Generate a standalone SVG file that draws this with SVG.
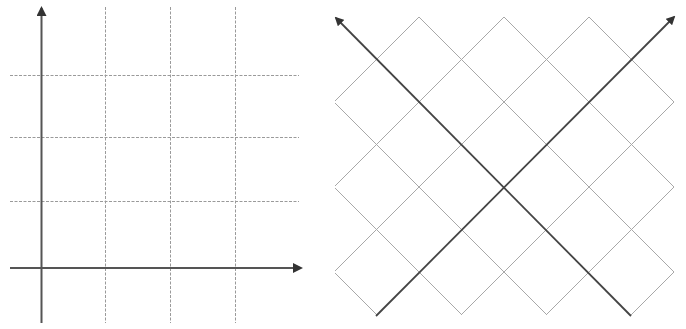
<svg xmlns="http://www.w3.org/2000/svg" width="686" height="329" viewBox="0 0 686 329">
<style>
.grid{stroke:#9a9a9a;stroke-width:1;stroke-dasharray:3 1.5;fill:none}
.rgrid{stroke:#a8a8a8;stroke-width:1;fill:none}
.axis{stroke:#555;stroke-width:2;fill:none}
.raxis{stroke:#444;stroke-width:1.8;fill:none}
</style>
<defs>
<marker id="arr" viewBox="0 0 10 10" refX="8" refY="5" markerWidth="5" markerHeight="5" orient="auto" markerUnits="strokeWidth">
<path d="M0,0 L10,5 L0,10 z" fill="#333"/>
</marker>
</defs>
<rect width="686" height="329" fill="#fff"/>
<g id="left-grid">
<line class="grid" x1="105.5" y1="7" x2="105.5" y2="323"/>
<line class="grid" x1="170.5" y1="7" x2="170.5" y2="323"/>
<line class="grid" x1="235.5" y1="7" x2="235.5" y2="323"/>
<line class="grid" x1="10" y1="75.5" x2="299" y2="75.5"/>
<line class="grid" x1="10" y1="137.5" x2="299" y2="137.5"/>
<line class="grid" x1="10" y1="201.5" x2="299" y2="201.5"/>
</g>
<g id="right-grid">
<line class="rgrid" x1="335" y1="273" x2="377" y2="315"/>
<line class="rgrid" x1="335" y1="188" x2="462" y2="315"/>
<line class="rgrid" x1="335" y1="103" x2="547" y2="315"/>
<line class="rgrid" x1="419" y1="17" x2="674" y2="272"/>
<line class="rgrid" x1="504" y1="17" x2="674" y2="187"/>
<line class="rgrid" x1="589" y1="17" x2="674" y2="102"/>
<line class="rgrid" x1="335" y1="101" x2="419" y2="17"/>
<line class="rgrid" x1="335" y1="186" x2="504" y2="17"/>
<line class="rgrid" x1="335" y1="271" x2="589" y2="17"/>
<line class="rgrid" x1="461" y1="315" x2="674" y2="102"/>
<line class="rgrid" x1="546" y1="315" x2="674" y2="187"/>
<line class="rgrid" x1="631" y1="315" x2="674" y2="272"/>
</g>
<g id="connectors">
<line class="axis" x1="41.5" y1="323" x2="41.5" y2="8" marker-end="url(#arr)"/>
<line class="axis" x1="10" y1="268" x2="301" y2="268" marker-end="url(#arr)"/>
<line class="raxis" x1="631" y1="316" x2="336" y2="18" marker-end="url(#arr)"/>
<line class="raxis" x1="376" y1="316" x2="674" y2="17" marker-end="url(#arr)"/>
</g>
</svg>
